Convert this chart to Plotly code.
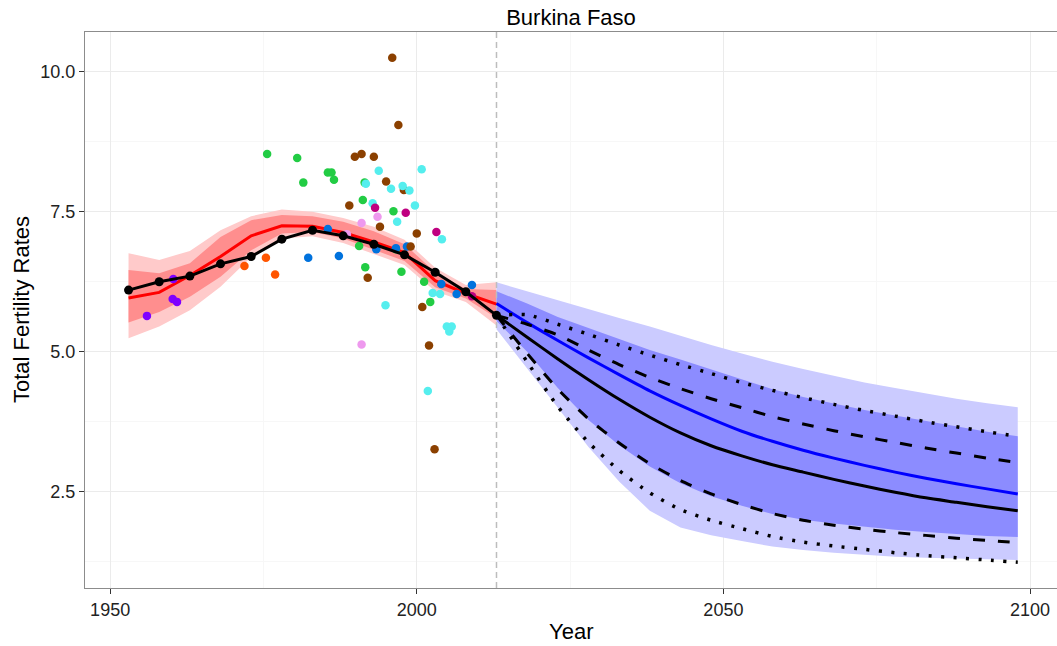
import plotly.graph_objects as go

# ---------------- data ----------------
PAST_YEARS = [1953, 1958, 1963, 1968, 1973, 1978, 1983, 1988, 1993, 1998, 2003, 2008, 2013]
WPP_PAST = [6.10, 6.25, 6.35, 6.57, 6.70, 7.01, 7.17, 7.07, 6.92, 6.73, 6.42, 6.07, 5.65]
EST_MEDIAN = [5.96, 6.06, 6.36, 6.70, 7.07, 7.25, 7.24, 7.13, 6.96, 6.77, 6.27, 6.04, 5.85]
EST_U95 = [6.76, 6.64, 6.80, 7.17, 7.42, 7.54, 7.50, 7.39, 7.23, 7.00, 6.50, 6.19, 6.24]
EST_U80 = [6.46, 6.40, 6.58, 7.05, 7.35, 7.44, 7.42, 7.32, 7.15, 6.92, 6.42, 6.12, 6.10]
EST_L80 = [5.52, 5.71, 5.98, 6.34, 6.81, 7.11, 7.14, 7.02, 6.82, 6.62, 6.15, 5.95, 5.60]
EST_L95 = [5.24, 5.45, 5.74, 6.16, 6.69, 7.02, 7.06, 6.94, 6.74, 6.55, 6.08, 5.89, 5.47]

PROJ_YEARS = [2013, 2018, 2023, 2028, 2033, 2038, 2043, 2048, 2053, 2058,
              2063, 2068, 2073, 2078, 2083, 2088, 2093, 2098]
PROJ_MEDIAN = [5.86, 5.52, 5.20, 4.89, 4.59, 4.30, 4.04, 3.80, 3.58, 3.40,
               3.24, 3.10, 2.97, 2.85, 2.74, 2.64, 2.55, 2.46]
PROJ_U95 = [6.24, 6.08, 5.91, 5.75, 5.60, 5.45, 5.28, 5.12, 4.97, 4.82,
            4.69, 4.57, 4.45, 4.35, 4.25, 4.16, 4.08, 4.01]
PROJ_U80 = [6.08, 5.86, 5.62, 5.42, 5.22, 5.03, 4.86, 4.68, 4.50, 4.33,
            4.19, 4.07, 3.96, 3.86, 3.76, 3.66, 3.57, 3.49]
PROJ_L80 = [5.55, 5.00, 4.35, 3.78, 3.33, 2.95, 2.65, 2.42, 2.25, 2.10,
            2.00, 1.93, 1.87, 1.82, 1.78, 1.74, 1.71, 1.69]
PROJ_L95 = [5.40, 4.70, 4.00, 3.30, 2.68, 2.16, 1.86, 1.72, 1.62, 1.52,
            1.46, 1.41, 1.37, 1.34, 1.32, 1.30, 1.29, 1.28]

WPP_MEDIAN = [5.65, 5.26, 4.87, 4.50, 4.15, 3.83, 3.55, 3.32, 3.14, 2.98,
              2.85, 2.72, 2.60, 2.49, 2.39, 2.31, 2.23, 2.16]
WPP_DASH_UP = [5.65, 5.49, 5.30, 5.03, 4.77, 4.54, 4.34, 4.16, 4.00, 3.84,
               3.71, 3.59, 3.48, 3.38, 3.28, 3.19, 3.10, 3.02]
WPP_DASH_LO = [5.65, 4.97, 4.33, 3.80, 3.37, 3.00, 2.70, 2.46, 2.27, 2.11,
               1.99, 1.90, 1.83, 1.77, 1.72, 1.67, 1.63, 1.59]
WPP_DOT_UP = [5.65, 5.66, 5.49, 5.31, 5.12, 4.94, 4.77, 4.61, 4.45, 4.31,
              4.18, 4.06, 3.95, 3.85, 3.75, 3.66, 3.57, 3.49]
WPP_DOT_LO = [5.65, 4.82, 4.02, 3.38, 2.88, 2.48, 2.18, 1.99, 1.84, 1.70,
              1.60, 1.53, 1.47, 1.41, 1.36, 1.32, 1.28, 1.24]

# observed data sources
SRC1_YEAR = [1956.0, 1960.3, 1960.2, 1960.9]
SRC1_TFR = [5.64, 6.30, 5.94, 5.89]
SRC2_YEAR = [1971.9, 1975.4, 1976.9]
SRC2_TFR = [6.53, 6.68, 6.38]
SRC3_YEAR = [1975.6, 1980.5, 1981.5, 1985.5, 1986.1, 1986.5, 1991.5, 1991.2,
             1996.2, 1990.6, 1991.6, 1997.5, 2001.2, 2002.2, 1996.6]
SRC3_TFR = [8.53, 8.46, 8.02, 8.20, 8.20, 8.07, 8.02, 7.71,
            7.51, 6.89, 6.51, 6.43, 6.25, 5.89, 6.83]
SRC4_YEAR = [1982.3, 1987.3, 1985.5, 1993.4, 1996.6, 1998.4, 2004.0, 2006.5, 2009.0]
SRC4_TFR = [6.68, 6.71, 7.19, 6.83, 6.85, 6.88, 6.21, 6.03, 6.19]
SRC5_YEAR = [1996.0, 1997.0, 1989.9, 1991.0, 1993.0, 1995.0, 1997.9, 1989.0,
             1994.0, 2000.0, 1999.0, 1992.0, 2000.9, 2002.0, 2002.9]
SRC5_TFR = [10.25, 9.05, 8.48, 8.53, 8.48, 8.04, 7.89, 7.61,
            7.23, 7.11, 6.88, 6.32, 5.80, 5.11, 3.26]
SRC6_YEAR = [1993.8, 1991.7, 1995.8, 1997.7, 1998.8, 2000.8, 1999.7, 1992.8,
             1996.8, 2004.1, 1994.9, 2002.6, 2003.8, 2004.9, 2005.7, 2005.3, 2001.8]
SRC6_TFR = [8.23, 8.00, 7.91, 7.96, 7.88, 8.26, 7.61, 7.65,
            7.32, 7.01, 5.83, 6.05, 6.03, 5.45, 5.45, 5.36, 4.30]
SRC7_YEAR = [1993.2, 1998.2, 2003.2, 2009.0]
SRC7_TFR = [7.57, 7.48, 7.14, 5.99]
SRC8_YEAR = [1991.0, 1993.6, 1991.0, 1988.6]
SRC8_TFR = [7.30, 7.41, 5.13, 7.10]

PROJ_START = 2013
X_TICKS = [1950, 2000, 2050, 2100]
X_MINOR = [1975, 2025, 2075]
Y_TICKS = [2.5, 5.0, 7.5, 10.0]
Y_TICK_TEXT = ["2.5", "5.0", "7.5", "10.0"]
Y_MINOR = [1.25, 3.75, 6.25, 8.75]
X_RANGE = [1945.9, 2104.4]
Y_RANGE = [0.78, 10.71]

# ---------------- styles ----------------
FONT = "Liberation Sans, Arial, sans-serif"
RED_OUT, RED_IN = "#FFCACA", "#FF8E8E"
BLUE_OUT, BLUE_IN = "#CBCBFF", "#8C8CFF"
SRC_COLORS = ["#7F00FF", "#FF5500", "#22CC44", "#0072DD",
              "#8B4000", "#55EEEE", "#BF0080", "#EE99EE"]

fig = go.Figure()


def band(xs, lo, hi, color):
    fig.add_trace(go.Scatter(
        x=list(xs) + list(xs)[::-1], y=list(hi) + list(lo)[::-1],
        fill="toself", fillcolor=color, line=dict(width=0),
        mode="lines", hoverinfo="skip", showlegend=False))


band(PAST_YEARS, EST_L95, EST_U95, RED_OUT)
band(PAST_YEARS, EST_L80, EST_U80, RED_IN)
band(PROJ_YEARS, PROJ_L95, PROJ_U95, BLUE_OUT)
band(PROJ_YEARS, PROJ_L80, PROJ_U80, BLUE_IN)

# projection start line
fig.add_trace(go.Scatter(x=[PROJ_START, PROJ_START], y=Y_RANGE, mode="lines",
                         line=dict(color="#BDBDBD", width=1.5, dash="6px,4px"),
                         showlegend=False, hoverinfo="skip"))

fig.add_trace(go.Scatter(x=PAST_YEARS, y=EST_MEDIAN, mode="lines",
                         line=dict(color="#FF0000", width=3), showlegend=False))

sources = [(SRC1_YEAR, SRC1_TFR), (SRC2_YEAR, SRC2_TFR), (SRC3_YEAR, SRC3_TFR),
           (SRC4_YEAR, SRC4_TFR), (SRC5_YEAR, SRC5_TFR), (SRC6_YEAR, SRC6_TFR),
           (SRC7_YEAR, SRC7_TFR), (SRC8_YEAR, SRC8_TFR)]
for (xs, ys), col in zip(sources, SRC_COLORS):
    fig.add_trace(go.Scatter(x=xs, y=ys, mode="markers",
                             marker=dict(color=col, size=8.5, line=dict(width=0)),
                             showlegend=False))

fig.add_trace(go.Scatter(x=PAST_YEARS, y=WPP_PAST, mode="lines+markers",
                         line=dict(color="black", width=3),
                         marker=dict(color="black", size=9), showlegend=False))

SMOOTH = dict(shape="spline", smoothing=0.6)
fig.add_trace(go.Scatter(x=PROJ_YEARS, y=PROJ_MEDIAN, mode="lines",
                         line=dict(color="#0000FF", width=3, **SMOOTH),
                         showlegend=False))
fig.add_trace(go.Scatter(x=PROJ_YEARS, y=WPP_MEDIAN, mode="lines",
                         line=dict(color="black", width=3, **SMOOTH),
                         showlegend=False))
for arr in (WPP_DASH_UP, WPP_DASH_LO):
    fig.add_trace(go.Scatter(x=PROJ_YEARS, y=arr, mode="lines",
                             line=dict(color="black", width=3, dash="12px,13px",
                                       **SMOOTH),
                             showlegend=False))
for arr in (WPP_DOT_UP, WPP_DOT_LO):
    fig.add_trace(go.Scatter(x=PROJ_YEARS, y=arr, mode="lines",
                             line=dict(color="black", width=3.5, dash="3px,9.5px",
                                       **SMOOTH),
                             showlegend=False))

axis_common = dict(
    showline=True, mirror=True, linecolor="#8C8C8C", linewidth=1,
    ticks="outside", ticklen=5, tickwidth=1, tickcolor="#333333",
    showgrid=True, gridcolor="#EBEBEB", gridwidth=1, zeroline=False,
    tickfont=dict(family=FONT, size=18, color="#222222"),
)
fig.update_xaxes(range=X_RANGE, tickvals=X_TICKS,
                 minor=dict(tickvals=X_MINOR, showgrid=True, gridcolor="#F7F7F7",
                            ticks=""),
                 **axis_common)
fig.update_yaxes(range=Y_RANGE, tickvals=Y_TICKS, ticktext=Y_TICK_TEXT,
                 minor=dict(tickvals=Y_MINOR, showgrid=True, gridcolor="#F7F7F7",
                            ticks=""),
                 **axis_common)

fig.update_layout(
    width=1057, height=646,
    margin=dict(l=85, r=0, t=32, b=58),
    paper_bgcolor="white", plot_bgcolor="white",
    showlegend=False,
    title=dict(text="Burkina Faso", x=0.5, xref="paper", y=1 - 17 / 646,
               yanchor="middle", xanchor="center",
               font=dict(family=FONT, size=22, color="black")),
    annotations=[
        dict(text="Year", xref="paper", yref="paper", x=0.5, y=-43 / 556,
             xanchor="center", yanchor="middle", showarrow=False,
             font=dict(family=FONT, size=22, color="black")),
        dict(text="Total Fertility Rates", xref="paper", yref="paper",
             x=-64 / 972, y=0.5, textangle=-90, xanchor="center", yanchor="middle",
             showarrow=False, font=dict(family=FONT, size=22, color="black")),
    ],
)

fig.write_html("out.html")
